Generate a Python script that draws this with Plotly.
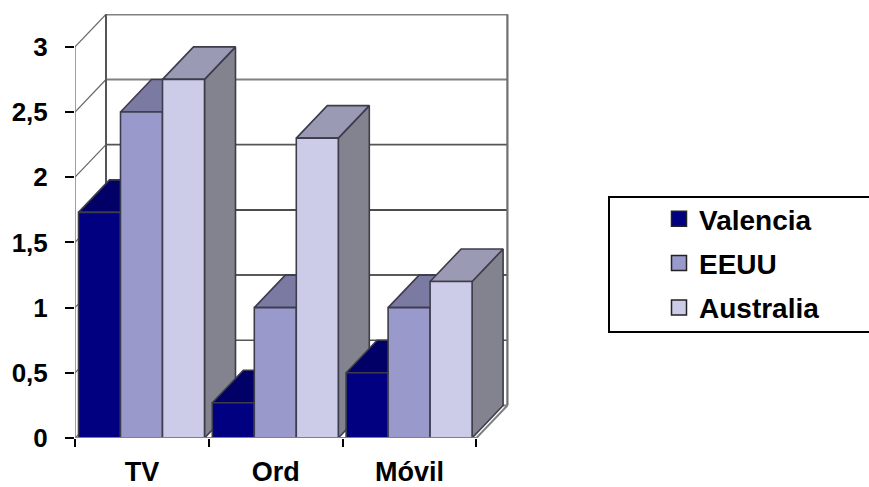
import plotly.graph_objects as go

# Chart data
categories = ["TV", "Ord", "Móvil"]
series_names = ["Valencia", "EEUU", "Australia"]
valencia = [1.73, 0.27, 0.5]
eeuu = [2.5, 1.0, 1.0]
australia = [2.75, 2.3, 1.2]
y_ticks = [0, 0.5, 1, 1.5, 2, 2.5, 3]
y_tick_labels = ["0", "0,5", "1", "1,5", "2", "2,5", "3"]

# Face colours of each series: front, top, side
front_colors = ["#000080", "#9999CC", "#CCCCE8"]
top_colors = ["#000066", "#7A7AA3", "#9A9AB4"]
side_colors = ["#000066", "#7A7AA3", "#83838F"]
edge_color = "#3C3C4C"

# Wall line styles per gridline level (colour, width)
grid_styles = [("#808080", 2), ("#555555", 1.5), ("#222222", 1.5), ("#111111", 1.5),
               ("#555555", 1.8), ("#808080", 2.2), ("#808080", 2.5)]

# Scale of the oblique projection
PX_PER_CAT = 133.8
PX_PER_UNIT = 130.4
DEPTH_X = 31 / PX_PER_CAT
DEPTH_Y = 32.5 / PX_PER_UNIT
BAR_WIDTH = 42 / PX_PER_CAT
BAR_INSET = 3.5 / PX_PER_CAT

Y_FONT = dict(family="Liberation Sans", size=26, color="black", weight="bold")
X_FONT = dict(family="Liberation Sans", size=27, color="black", weight="bold")
LEGEND_FONT = dict(family="Liberation Sans", size=28, color="black", weight="bold")

# Plot area in pixels, used to place the legend frame in paper units
PLOT_LEFT, PLOT_WIDTH, PLOT_BOTTOM, PLOT_HEIGHT = 75, 435, 438, 424

fig = go.Figure()


def line(xs, ys, color, width):
    fig.add_trace(go.Scatter(x=xs, y=ys, mode="lines", showlegend=False, hoverinfo="skip",
                             line=dict(color=color, width=width), cliponaxis=False))


def face(xs, ys, fill):
    fig.add_trace(go.Scatter(x=xs, y=ys, mode="lines", fill="toself", fillcolor=fill,
                             showlegend=False, hoverinfo="skip",
                             line=dict(color=edge_color, width=1.6), cliponaxis=False))


# Walls and floor
n_cat = len(categories)
for level, (color, width) in zip(y_ticks, grid_styles):
    line([DEPTH_X, n_cat + DEPTH_X], [level + DEPTH_Y] * 2, color, width)
    line([0, DEPTH_X], [level, level + DEPTH_Y], "#666666", 1.2)
line([0, 0], [0, 3], "#808080", 1.5)
line([DEPTH_X, DEPTH_X], [DEPTH_Y, 3 + DEPTH_Y], "#555555", 2)
line([n_cat + DEPTH_X, n_cat + DEPTH_X], [DEPTH_Y, 3 + DEPTH_Y], "#707070", 2.2)

# Bars, painted left to right so nearer faces overlap correctly
for c in range(n_cat):
    for s, values in enumerate([valencia, eeuu, australia]):
        v = values[c]
        x0 = c + BAR_INSET + s * BAR_WIDTH
        x1 = x0 + BAR_WIDTH
        face([x1, x1 + DEPTH_X, x1 + DEPTH_X, x1, x1], [0, DEPTH_Y, v + DEPTH_Y, v, 0], side_colors[s])
        face([x0, x0 + DEPTH_X, x1 + DEPTH_X, x1, x0], [v, v + DEPTH_Y, v + DEPTH_Y, v, v], top_colors[s])
        face([x0, x0, x1, x1, x0], [0, v, v, 0, 0], front_colors[s])

# Floor edges in front of the bars
line([0, n_cat], [0, 0], "#808080", 2)
line([n_cat, n_cat + DEPTH_X], [0, DEPTH_Y], "#808080", 2)

# Legend entries
for name, color in zip(series_names, front_colors):
    fig.add_trace(go.Scatter(x=[None], y=[None], mode="markers", name=name, legendgroup=name,
                             marker=dict(symbol="square", size=15, color=color,
                                         line=dict(color="#222222", width=1.5))))


def paper_x(px):
    return (px - PLOT_LEFT) / PLOT_WIDTH


def paper_y(px):
    return (PLOT_BOTTOM - px) / PLOT_HEIGHT


# Legend frame runs past the right edge of the page
fig.add_shape(type="rect", xref="paper", yref="paper", layer="below",
              x0=paper_x(609), x1=paper_x(885), y0=paper_y(332), y1=paper_y(197),
              line=dict(color="black", width=2), fillcolor="white")

fig.update_layout(
    width=869, height=487,
    margin=dict(l=PLOT_LEFT, r=869 - PLOT_LEFT - PLOT_WIDTH, t=14, b=487 - PLOT_BOTTOM, autoexpand=False),
    paper_bgcolor="white", plot_bgcolor="white",
    font=Y_FONT,
    showlegend=True,
    legend=dict(x=paper_x(659), y=paper_y(194), xanchor="left", yanchor="top",
                borderwidth=0, bgcolor="rgba(0,0,0,0)",
                font=LEGEND_FONT, tracegroupgap=5, traceorder="grouped", itemsizing="trace"),
    xaxis=dict(range=[0, PLOT_WIDTH / PX_PER_CAT], showgrid=False, zeroline=False, showline=False,
               tickvals=[i + 0.5 for i in range(n_cat)], ticktext=categories, ticks="",
               ticklabelstandoff=15, tickfont=X_FONT,
               minor=dict(tickvals=list(range(n_cat + 1)), ticks="outside", ticklen=8,
                          tickcolor="black", tickwidth=1.5, showgrid=False)),
    yaxis=dict(range=[0, PLOT_HEIGHT / PX_PER_UNIT], showgrid=False, zeroline=False, showline=False,
               tickvals=y_ticks, ticktext=y_tick_labels, ticks="outside", ticklen=9,
               tickcolor="black", tickwidth=1.5, ticklabelstandoff=12, tickfont=Y_FONT),
)

fig.write_html("out.html")
